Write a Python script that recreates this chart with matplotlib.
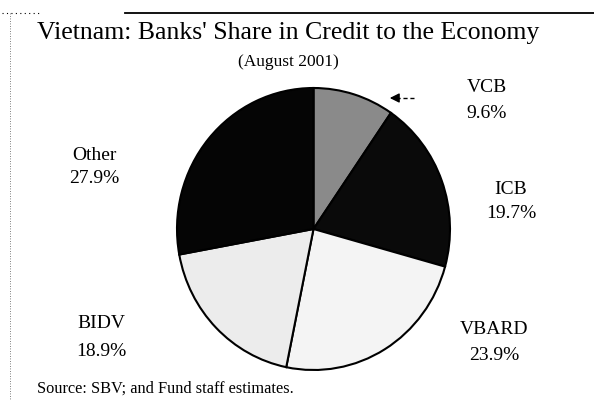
import matplotlib.pyplot as plt

banks = ["VCB", "ICB", "VBARD", "BIDV", "Other"]
shares = [9.6, 19.7, 23.9, 18.9, 27.9]
colors = ["#8a8a8a", "#0a0a0a", "#f4f4f4", "#ececec", "#050505"]

W, H = 594, 404

def px(x, y):
    # pixel coords (from top-left) -> figure fraction
    return x / W, 1 - y / H

plt.rcParams["font.family"] = ["Liberation Serif", "DejaVu Serif"]

fig = plt.figure(figsize=(W / 100, H / 100), dpi=100)
fig.patch.set_facecolor("white")

# pie axes fitted to the drawn (slightly tall) ellipse
ax = fig.add_axes([177 / W, 1 - 370 / H, 273 / W, 282 / H])
ax.pie(shares, colors=colors, startangle=90, counterclock=False,
       wedgeprops=dict(edgecolor="black", linewidth=1.5))
ax.set_aspect("auto")
ax.set_xlim(-1.0, 1.0)
ax.set_ylim(-1.0, 1.0)

# title
fig.text(*px(288, 33), "Vietnam: Banks' Share in Credit to the Economy",
         ha="center", va="center", fontsize=18.5)
fig.text(*px(288, 62), "(August 2001)", ha="center", va="center", fontsize=12.5)

# slice labels
label_pos = {"VCB": (487, 87, 113), "ICB": (511, 189, 214),
             "VBARD": (494, 330, 355), "BIDV": (101, 323, 351),
             "Other": (94, 155, 179)}
for name, val in zip(banks, shares):
    x, y1, y2 = label_pos[name]
    fig.text(*px(x, y1), name, ha="center", va="center", fontsize=14)
    fig.text(*px(x, y2), f"{val}%", ha="center", va="center", fontsize=14)

# arrow pointing at VCB slice
fig.add_artist(plt.Line2D([px(396, 0)[0], px(414, 0)[0]], [px(0, 98)[1]] * 2,
                          color="black", lw=1.0, ls=(0, (3, 2))))
ax.annotate("", xy=px(387, 98), xytext=px(400, 98),
            xycoords="figure fraction", textcoords="figure fraction",
            arrowprops=dict(arrowstyle="-|>", color="black", lw=1.0,
                            mutation_scale=14))

# source note
fig.text(*px(37, 389), "Source: SBV; and Fund staff estimates.",
         ha="left", va="center", fontsize=11.8)

# scanned frame lines
fig.add_artist(plt.Line2D([px(125, 0)[0], 1.0], [px(0, 13)[1]] * 2,
                          color="black", lw=1.3))
fig.add_artist(plt.Line2D([px(0, 0)[0] + 0.003, px(40, 0)[0]], [px(0, 13)[1]] * 2,
                          color="black", lw=0.8, ls=(0, (1, 3))))
fig.add_artist(plt.Line2D([px(10, 0)[0]] * 2, [px(0, 13)[1], px(0, 400)[1]],
                          color="#555555", lw=0.6, ls=(0, (1, 2))))

fig.savefig("out.png", dpi=100)
